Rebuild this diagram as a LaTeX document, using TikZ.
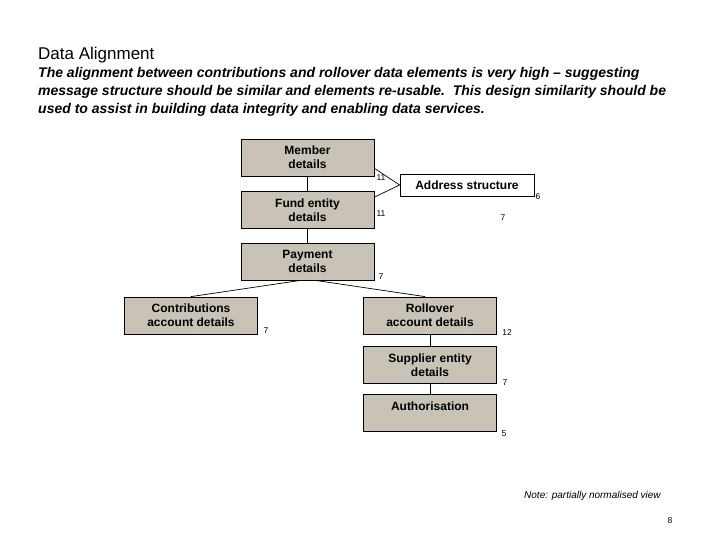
\documentclass[tikz,border=0pt]{standalone}
\usepackage{fontspec}
\setmainfont{Liberation Sans}
\definecolor{boxgrey}{RGB}{200,194,183}

\begin{document}
\begin{tikzpicture}[x=1pt,y=-1pt,
    box/.style={draw,line width=0.8pt,fill=boxgrey,minimum width=133pt,minimum height=37pt,
      align=center,inner sep=1pt,font=\fontsize{12}{14}\selectfont\bfseries},
    num/.style={font=\fontsize{8.5}{9}\selectfont,inner sep=0pt},
    link/.style={line width=0.7pt}]
  \useasboundingbox (0,0) rectangle (720,540);
  % heading
  \node[anchor=base west,inner sep=0pt,font=\fontsize{17}{18}\selectfont] (title) at (38,60) {Data Alignment};
  \node[anchor=north west,inner sep=0pt,align=left,font=\fontsize{14}{17.8}\selectfont\bfseries\itshape] (intro) at (38,67.5)
    {The alignment between contributions and rollover data elements is very high -- suggesting\\
     message structure should be similar and elements re-usable.\ \ This design similarity should be\\
     used to assist in building data integrity and enabling data services.};
  % boxes
  \node[box] (member) at (307.5,157.5) {Member\\details};
  \node[box] (fund) at (307.5,210) {Fund entity\\details};
  \node[box] (payment) at (307.5,261.5) {Payment\\details};
  \node[box] (contrib) at (191,315.5) {Contributions\\account details};
  \node[box] (rollover) at (430,315.5) {Rollover\\account details};
  \node[box] (supplier) at (430,365) {Supplier entity\\details};
  \node[box] (auth) at (430,413) {Authorisation\\\mbox{}};
  \node[box,fill=white,minimum width=134pt,minimum height=22pt] (address) at (467,185) {Address structure};
  % links
  \draw[link] (member) -- (fund);
  \draw[link] (fund) -- (payment);
  \draw[link] ([yshift=8pt]member.south east) -- (address.west);
  \draw[link] ([yshift=-6pt]fund.north east) -- (address.west);
  \draw[link] ([xshift=-7pt]payment.south) -- (contrib.north);
  \draw[link] ([xshift=8pt]payment.south) -- ([xshift=-5pt]rollover.north);
  \draw[link] (rollover) -- (supplier);
  \draw[link] (supplier) -- (auth);
  % counts
  \node[num] (nmember) at (381,178) {11};
  \node[num] (nfund) at (381,214) {11};
  \node[num] (nmid) at (503,218) {7};
  \node[num] (naddress) at (538,197) {6};
  \node[num] (npayment) at (381,277) {7};
  \node[num] (ncontrib) at (266,331) {7};
  \node[num] (nrollover) at (507,333) {12};
  \node[num] (nsupplier) at (505,383) {7};
  \node[num] (nauth) at (504,434) {5};
  % footer
  \node[anchor=west,inner sep=0pt,font=\fontsize{10}{11}\selectfont\itshape] (note) at (524,496) {Note: partially normalised view};
  \node[num] (page) at (670,521) {8};
\end{tikzpicture}
\end{document}
